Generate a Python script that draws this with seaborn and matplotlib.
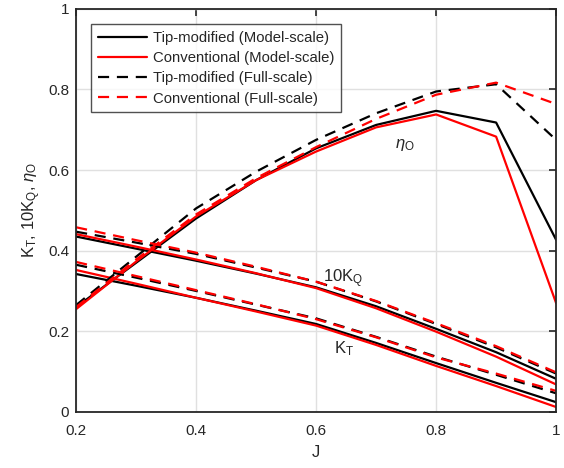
"""
Open-water performance: tip-modified vs conventional propeller
"""

import matplotlib
matplotlib.use('Agg')
import matplotlib.pyplot as plt
import numpy as np
import pandas as pd
import seaborn as sns

J = [0.2, 0.3, 0.4, 0.5, 0.6, 0.7, 0.8, 0.9, 1.0]

# K_T
kt_tip_model = [0.342, 0.313, 0.283, 0.251, 0.218, 0.171, 0.121, 0.072, 0.024]
kt_conv_model = [0.352, 0.318, 0.283, 0.249, 0.214, 0.166, 0.114, 0.064, 0.012]
kt_tip_full = [0.365, 0.333, 0.300, 0.266, 0.232, 0.186, 0.137, 0.092, 0.046]
kt_conv_full = [0.372, 0.337, 0.302, 0.267, 0.230, 0.185, 0.135, 0.095, 0.052]

# 10 K_Q
kq_tip_model = [0.435, 0.405, 0.375, 0.343, 0.309, 0.262, 0.206, 0.148, 0.082]
kq_conv_model = [0.441, 0.410, 0.378, 0.344, 0.307, 0.257, 0.199, 0.137, 0.068]
kq_tip_full = [0.447, 0.420, 0.392, 0.358, 0.323, 0.274, 0.218, 0.160, 0.095]
kq_conv_full = [0.458, 0.426, 0.395, 0.360, 0.323, 0.275, 0.220, 0.163, 0.098]

# eta_O
eta_tip_model = [0.260, 0.370, 0.480, 0.575, 0.654, 0.712, 0.747, 0.718, 0.427]
eta_conv_model = [0.255, 0.373, 0.485, 0.575, 0.646, 0.706, 0.738, 0.683, 0.270]
eta_tip_full = [0.265, 0.385, 0.505, 0.596, 0.675, 0.741, 0.795, 0.813, 0.675]
eta_conv_full = [0.260, 0.378, 0.490, 0.580, 0.657, 0.727, 0.787, 0.817, 0.764]

series_names = ['Tip-modified (Model-scale)', 'Conventional (Model-scale)',
                'Tip-modified (Full-scale)', 'Conventional (Full-scale)']
series_data = {
    series_names[0]: [kt_tip_model, kq_tip_model, eta_tip_model],
    series_names[1]: [kt_conv_model, kq_conv_model, eta_conv_model],
    series_names[2]: [kt_tip_full, kq_tip_full, eta_tip_full],
    series_names[3]: [kt_conv_full, kq_conv_full, eta_conv_full],
}
colors = {series_names[0]: 'black', series_names[1]: 'red',
          series_names[2]: 'black', series_names[3]: 'red'}
dashes = {series_names[0]: '-', series_names[1]: '-',
          series_names[2]: (0, (5, 3.5)), series_names[3]: (0, (5, 3.5))}

sns.set_style('white')
plt.rcParams['font.family'] = ['Liberation Sans', 'DejaVu Sans']
plt.rcParams['mathtext.fontset'] = 'custom'
plt.rcParams['mathtext.rm'] = 'Liberation Sans'
plt.rcParams['mathtext.it'] = 'Liberation Sans:italic'

fig = plt.figure(figsize=(5.64, 4.68), dpi=100)
ax = fig.add_axes([0.135, 0.12, 0.851, 0.861])

for name in series_names:
    for k, vals in enumerate(series_data[name]):
        df = pd.DataFrame({'J': J, 'val': vals})
        sns.lineplot(data=df, x='J', y='val', ax=ax, color=colors[name],
                     linewidth=1.6, label=name if k == 0 else None,
                     legend=False)
        ax.lines[-1].set_linestyle(dashes[name])

ax.set_xlim(0.2, 1.0)
ax.set_ylim(0, 1)
ax.set_xticks([0.2, 0.4, 0.6, 0.8, 1.0])
ax.set_xticklabels(['0.2', '0.4', '0.6', '0.8', '1'])
ax.set_yticks([0, 0.2, 0.4, 0.6, 0.8, 1.0])
ax.set_yticklabels(['0', '0.2', '0.4', '0.6', '0.8', '1'])
ax.grid(True, color='#e0e0e0', linewidth=1.0)
ax.set_axisbelow(True)
ax.tick_params(direction='in', length=5, width=1.2, colors='#262626',
               labelsize=11, top=True, right=True, pad=5)
ax.tick_params(axis='x', pad=9)
for sp in ax.spines.values():
    sp.set_visible(True)
    sp.set_color('#262626')
    sp.set_linewidth(1.3)

ax.set_xlabel('J', fontsize=12, color='#262626', labelpad=5)
ax.set_ylabel(r'K$_\mathrm{T}$, 10K$_\mathrm{Q}$, $\eta_\mathrm{O}$',
              fontsize=12, color='#262626', labelpad=4)

ax.text(0.732, 0.655, r'$\eta_\mathrm{O}$', fontsize=12, color='#262626')
ax.text(0.612, 0.322, r'10K$_\mathrm{Q}$', fontsize=12, color='#262626')
ax.text(0.63, 0.146, r'K$_\mathrm{T}$', fontsize=12, color='#262626')

handles, labels = ax.get_legend_handles_labels()
leg = ax.legend(handles, labels, loc='upper left', bbox_to_anchor=(0.031, 0.962),
                fontsize=10.7, frameon=True, fancybox=False, handlelength=3.3,
                borderpad=0.45, labelspacing=0.42, handletextpad=0.4,
                borderaxespad=0)
leg.get_frame().set_edgecolor('#262626')
leg.get_frame().set_linewidth(1.0)

plt.savefig('out.png', dpi=100)
plt.close()
